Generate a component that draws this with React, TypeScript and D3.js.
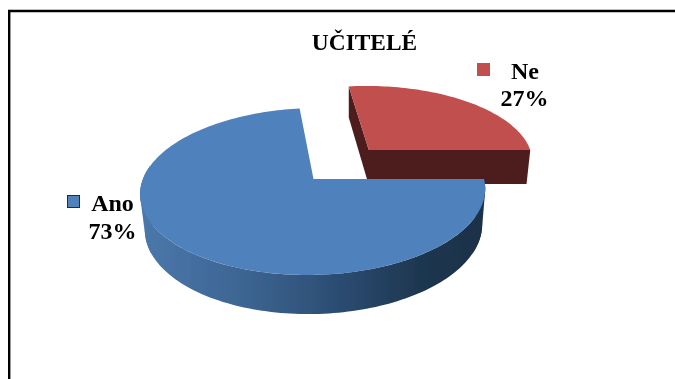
import React from "react";
import * as d3 from "d3";

const categories = ["Ano", "Ne"];
const values = [73, 27];
const labels = ["73%", "27%"];
const explode = [0, 0.5];
const topColors = ["#4f81bd", "#c0504d"];

const W = 675, H = 379;
const CX = 313.5, CY = 179, RX = 170.5, AY = 81.6, K = 0.1497;
const VX = 350, NX = 350, NY = 1800, DEPTH = 0.0218;

type P = [number, number];

// plane (u, v) -> screen, perspective; bottom = lower face of the extruded disc
function project(u: number, v: number, bottom = false): P {
  const w = 1 / (1 - K * v);
  const X = CX + RX * u;
  const x = VX + (X - VX) * w;
  const y = CY + AY * v * w;
  if (!bottom) return [x, y];
  const t = DEPTH * w;
  return [x + t * (NX - x), y + t * (NY - y)];
}

const pie = d3.pie<number>().sort(null).startAngle(Math.PI / 2).endAngle(Math.PI * 2.5);
const arcs = pie(values);

const line = d3.line<P>().x((d) => d[0]).y((d) => d[1]);

function offset(i: number): P {
  const mid = (arcs[i].startAngle + arcs[i].endAngle) / 2;
  return [Math.sin(mid) * explode[i], -Math.cos(mid) * explode[i]];
}
function rim(i: number, a0: number, a1: number, bottom = false): P[] {
  const [ox, oy] = offset(i);
  const n = Math.max(2, Math.ceil(Math.abs(a1 - a0) * 40));
  return d3.range(n + 1).map((k) => {
    const a = a0 + ((a1 - a0) * k) / n;
    return project(ox + Math.sin(a), oy - Math.cos(a), bottom);
  });
}
function apex(i: number, bottom = false): P {
  const [ox, oy] = offset(i);
  return project(ox, oy, bottom);
}
function topPath(i: number): string {
  return line([apex(i), ...rim(i, arcs[i].startAngle, arcs[i].endAngle)])! + "Z";
}

// Ano outer wall: the part of the rim that faces the viewer
const anoStart = Math.PI / 2;
const anoEnd = Math.PI * 1.5 + 0.16;
const anoWall =
  line([...rim(0, anoStart, anoEnd), ...rim(0, anoStart, anoEnd, true).reverse()])! + "Z";

// silhouette pieces: convex hull between top and bottom rim at the two sides
function sideHull(a0: number, a1: number): string {
  const hull = d3.polygonHull([...rim(0, a0, a1), ...rim(0, a0, a1, true)]) as P[];
  return line(hull)! + "Z";
}
const anoLeft = sideHull(Math.PI * 1.5 - 0.45, anoEnd);
const anoRight = sideHull(anoStart, anoStart + 0.45);

// Ne walls: along the east radius and along the far radius
const neStart = arcs[1].startAngle;
const neEnd = arcs[1].endAngle;
const neWall =
  line([
    rim(1, neStart, neStart)[0],
    apex(1),
    rim(1, neEnd, neEnd)[0],
    rim(1, neEnd, neEnd, true)[0],
    apex(1, true),
    rim(1, neStart, neStart, true)[0],
  ])! + "Z";

const serif = "'Liberation Serif', 'Times New Roman', serif";

export default function App() {
  return (
    <svg
      width={W}
      height={H}
      viewBox={`0 0 ${W} ${H}`}
      style={{ position: "fixed", left: 0, top: 0, display: "block" }}
    >
      <defs>
        <linearGradient id="anoSide" gradientUnits="userSpaceOnUse" x1={139} x2={487} y1={0} y2={0}>
          <stop offset="0" stopColor="#4a78ab" />
          <stop offset="0.3" stopColor="#3d6592" />
          <stop offset="0.6" stopColor="#2a4a6e" />
          <stop offset="0.8" stopColor="#1f3750" />
          <stop offset="1" stopColor="#1d3149" />
        </linearGradient>
        <filter id="soft" x="-5%" y="-5%" width="110%" height="110%">
          <feGaussianBlur stdDeviation="0.4" />
        </filter>
      </defs>
      <rect x={0} y={0} width={W} height={H} fill="#fff" />
      <path d="M9.2 379V11H675" fill="none" stroke="#000" strokeWidth={2.4} />

      <g filter="url(#soft)">
        <path d={neWall} fill="#4d1f1e" />
        <path d={topPath(1)} fill={topColors[1]} />
        <path d={anoLeft} fill="url(#anoSide)" />
        <path d={anoRight} fill="url(#anoSide)" />
        <path d={anoWall} fill="url(#anoSide)" />
        <path d={topPath(0)} fill={topColors[0]} />

        <text x={364.5} y={50} textAnchor="middle" fontFamily={serif} fontWeight="bold" fontSize={23.4} fill="#000">
          UČITELÉ
        </text>

        <rect x={477} y={63} width={13} height={13} fill={topColors[1]} />
        <text textAnchor="middle" fontFamily={serif} fontWeight="bold" fontSize={24} fill="#000">
          <tspan x={525} y={79}>{categories[1]}</tspan>
          <tspan x={524.5} y={106}>{labels[1]}</tspan>
        </text>

        <rect x={67.5} y={195.5} width={12} height={12} fill={topColors[0]} stroke="#1f2f45" strokeWidth={1} />
        <text textAnchor="middle" fontFamily={serif} fontWeight="bold" fontSize={24} fill="#000">
          <tspan x={112.5} y={211}>{categories[0]}</tspan>
          <tspan x={112.5} y={239}>{labels[0]}</tspan>
        </text>
      </g>
    </svg>
  );
}
